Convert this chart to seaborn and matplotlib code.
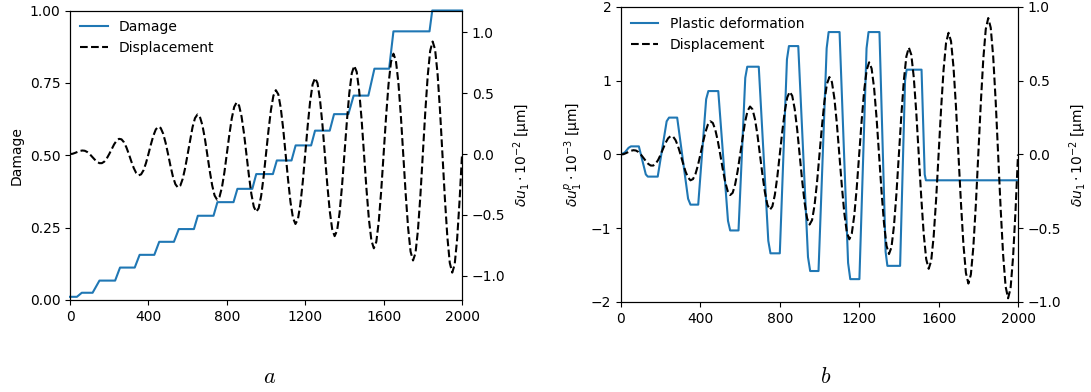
import numpy as np
import matplotlib
matplotlib.use("Agg")
import matplotlib.pyplot as plt
import seaborn as sns

# time grid for the displacement samples (step 12.5)
disp_t = np.arange(0, 2000.1, 12.5)
# displacement  (x 1e-2 um)
disp = [
    0, .002, .009, .017, .025, .029, .027, .017, 0, -.022, -.044, -.064, -.075, -.075, -.062, -.036,
    0, .041, .080, .110, .125, .121, .097, .055, 0, -.060, -.115, -.156, -.175, -.167, -.133, -.074,
    0, .079, .150, .202, .225, .214, .168, .093, 0, -.098, -.186, -.248, -.275, -.260, -.203, -.113,
    0, .117, .221, .295, .325, .306, .239, .132, 0, -.136, -.256, -.341, -.375, -.352, -.274, -.151,
    0, .156, .292, .387, .425, .398, .309, .170, 0, -.175, -.327, -.433, -.475, -.445, -.345, -.189,
    0, .194, .362, .479, .525, .491, .380, .208, 0, -.213, -.398, -.526, -.575, -.537, -.415, -.227,
    0, .232, .433, .572, .625, .583, .451, .247, 0, -.251, -.468, -.618, -.675, -.629, -.486, -.266,
    0, .270, .504, .664, .725, .676, .521, .285, 0, -.290, -.539, -.710, -.775, -.722, -.557, -.304,
    0, .309, .574, .757, .825, .768, .592, .323, 0, -.328, -.610, -.803, -.875, -.814, -.627, -.342,
    0, .347, .645, .849, .925, .860, .663, .361, 0, -.366, -.680, -.895, -.975, -.907, -.698, -.381,
    0,
]

# damage staircase
dmg_t = [0, 35, 60, 115, 150, 230, 255, 330, 355, 430, 455, 530, 555, 632, 652, 732,
         752, 834, 854, 930, 950, 1035, 1055, 1130, 1151, 1230, 1250, 1325, 1347, 1420,
         1447, 1522, 1553, 1628, 1650, 1834, 1848, 2000]
dmg = [0.011, 0.011, 0.025, 0.025, 0.067, 0.067, 0.112, 0.112, 0.156, 0.156, 0.201, 0.201,
       0.245, 0.245, 0.291, 0.291, 0.338, 0.338, 0.384, 0.384, 0.435, 0.435, 0.482, 0.482,
       0.534, 0.534, 0.585, 0.585, 0.642, 0.642, 0.706, 0.706, 0.799, 0.799, 0.928, 0.928,
       1.0, 1.0]

# plastic deformation (x 1e-3 um)
pl_t = [0, 20, 38, 50, 90, 125, 135, 185, 230, 242, 283, 338, 350, 389, 429, 440,
        490, 539, 550, 592, 626, 636, 694, 742, 753, 800, 836, 846, 893, 942, 953,
        995, 1036, 1046, 1101, 1144, 1155, 1201, 1237, 1247, 1302, 1333, 1342, 1406,
        1431, 1439, 1514, 1530, 1536, 2000]
pl = [0, 0.03, 0.09, 0.11, 0.11, -0.27, -0.30, -0.30, 0.45, 0.50, 0.50, -0.60, -0.68,
      -0.68, 0.75, 0.86, 0.86, -0.90, -1.03, -1.03, 1.04, 1.19, 1.19, -1.17, -1.34,
      -1.34, 1.29, 1.47, 1.47, -1.39, -1.58, -1.58, 1.44, 1.66, 1.66, -1.47, -1.69,
      -1.69, 1.44, 1.66, 1.66, -1.32, -1.51, -1.51, 1.0, 1.15, 1.15, -0.27, -0.35, -0.35]

xticks = [0, 400, 800, 1200, 1600, 2000]
blue = "#1f77b4"
ulabel = r"$\delta u_1 \cdot 10^{-2}$ [µm]"

fig = plt.figure(figsize=(10.91, 3.92), dpi=100)

# ---- panel a
ax1 = fig.add_axes([0.0642, 0.2347, 0.3593, 0.7385])
ax1b = ax1.twinx()
sns.lineplot(x=dmg_t, y=dmg, ax=ax1, color=blue, lw=1.5, label="Damage", legend=False,
             clip_on=False)
sns.lineplot(x=disp_t, y=disp, ax=ax1b, color="black", lw=1.5, ls="--",
             label="Displacement", legend=False)
ax1.set_xlim(0, 2000)
ax1.set_ylim(0, 1)
ax1.set_xticks(xticks)
ax1.set_yticks([0, 0.25, 0.5, 0.75, 1.0])
ax1.set_yticklabels(["0.00", "0.25", "0.50", "0.75", "1.00"])
ax1.set_ylabel("Damage")
ax1b.set_ylim(-1.2, 1.18)
ax1b.set_yticks([-1.0, -0.5, 0.0, 0.5, 1.0])
ax1b.set_ylabel(ulabel)
h1, l1 = ax1.get_legend_handles_labels()
h2, l2 = ax1b.get_legend_handles_labels()
ax1b.legend(h1 + h2, l1 + l2, loc="upper left", frameon=False, borderaxespad=0.3)

# ---- panel b
ax2 = fig.add_axes([0.5692, 0.2296, 0.3639, 0.7526])
ax2b = ax2.twinx()
sns.lineplot(x=pl_t, y=pl, ax=ax2, color=blue, lw=1.5, label="Plastic deformation", legend=False)
sns.lineplot(x=disp_t, y=disp, ax=ax2b, color="black", lw=1.5, ls="--",
             label="Displacement", legend=False)
ax2.set_xlim(0, 2000)
ax2.set_ylim(-2, 2)
ax2.set_xticks(xticks)
ax2.set_yticks([-2, -1, 0, 1, 2])
ax2.set_ylabel(r"$\delta u_1^p \cdot 10^{-3}$ [µm]")
ax2b.set_ylim(-1, 1)
ax2b.set_yticks([-1.0, -0.5, 0.0, 0.5, 1.0])
ax2b.set_ylabel(ulabel)
h1, l1 = ax2.get_legend_handles_labels()
h2, l2 = ax2b.get_legend_handles_labels()
ax2b.legend(h1 + h2, l1 + l2, loc="upper left", frameon=False, borderaxespad=0.3)

fig.text(270 / 1091, 1 - 377 / 392, "$a$", ha="center", va="center", fontsize=16,
         math_fontfamily="cm")
fig.text(826 / 1091, 1 - 377 / 392, "$b$", ha="center", va="center", fontsize=16,
         math_fontfamily="cm")

fig.savefig("out.png", dpi=100)
